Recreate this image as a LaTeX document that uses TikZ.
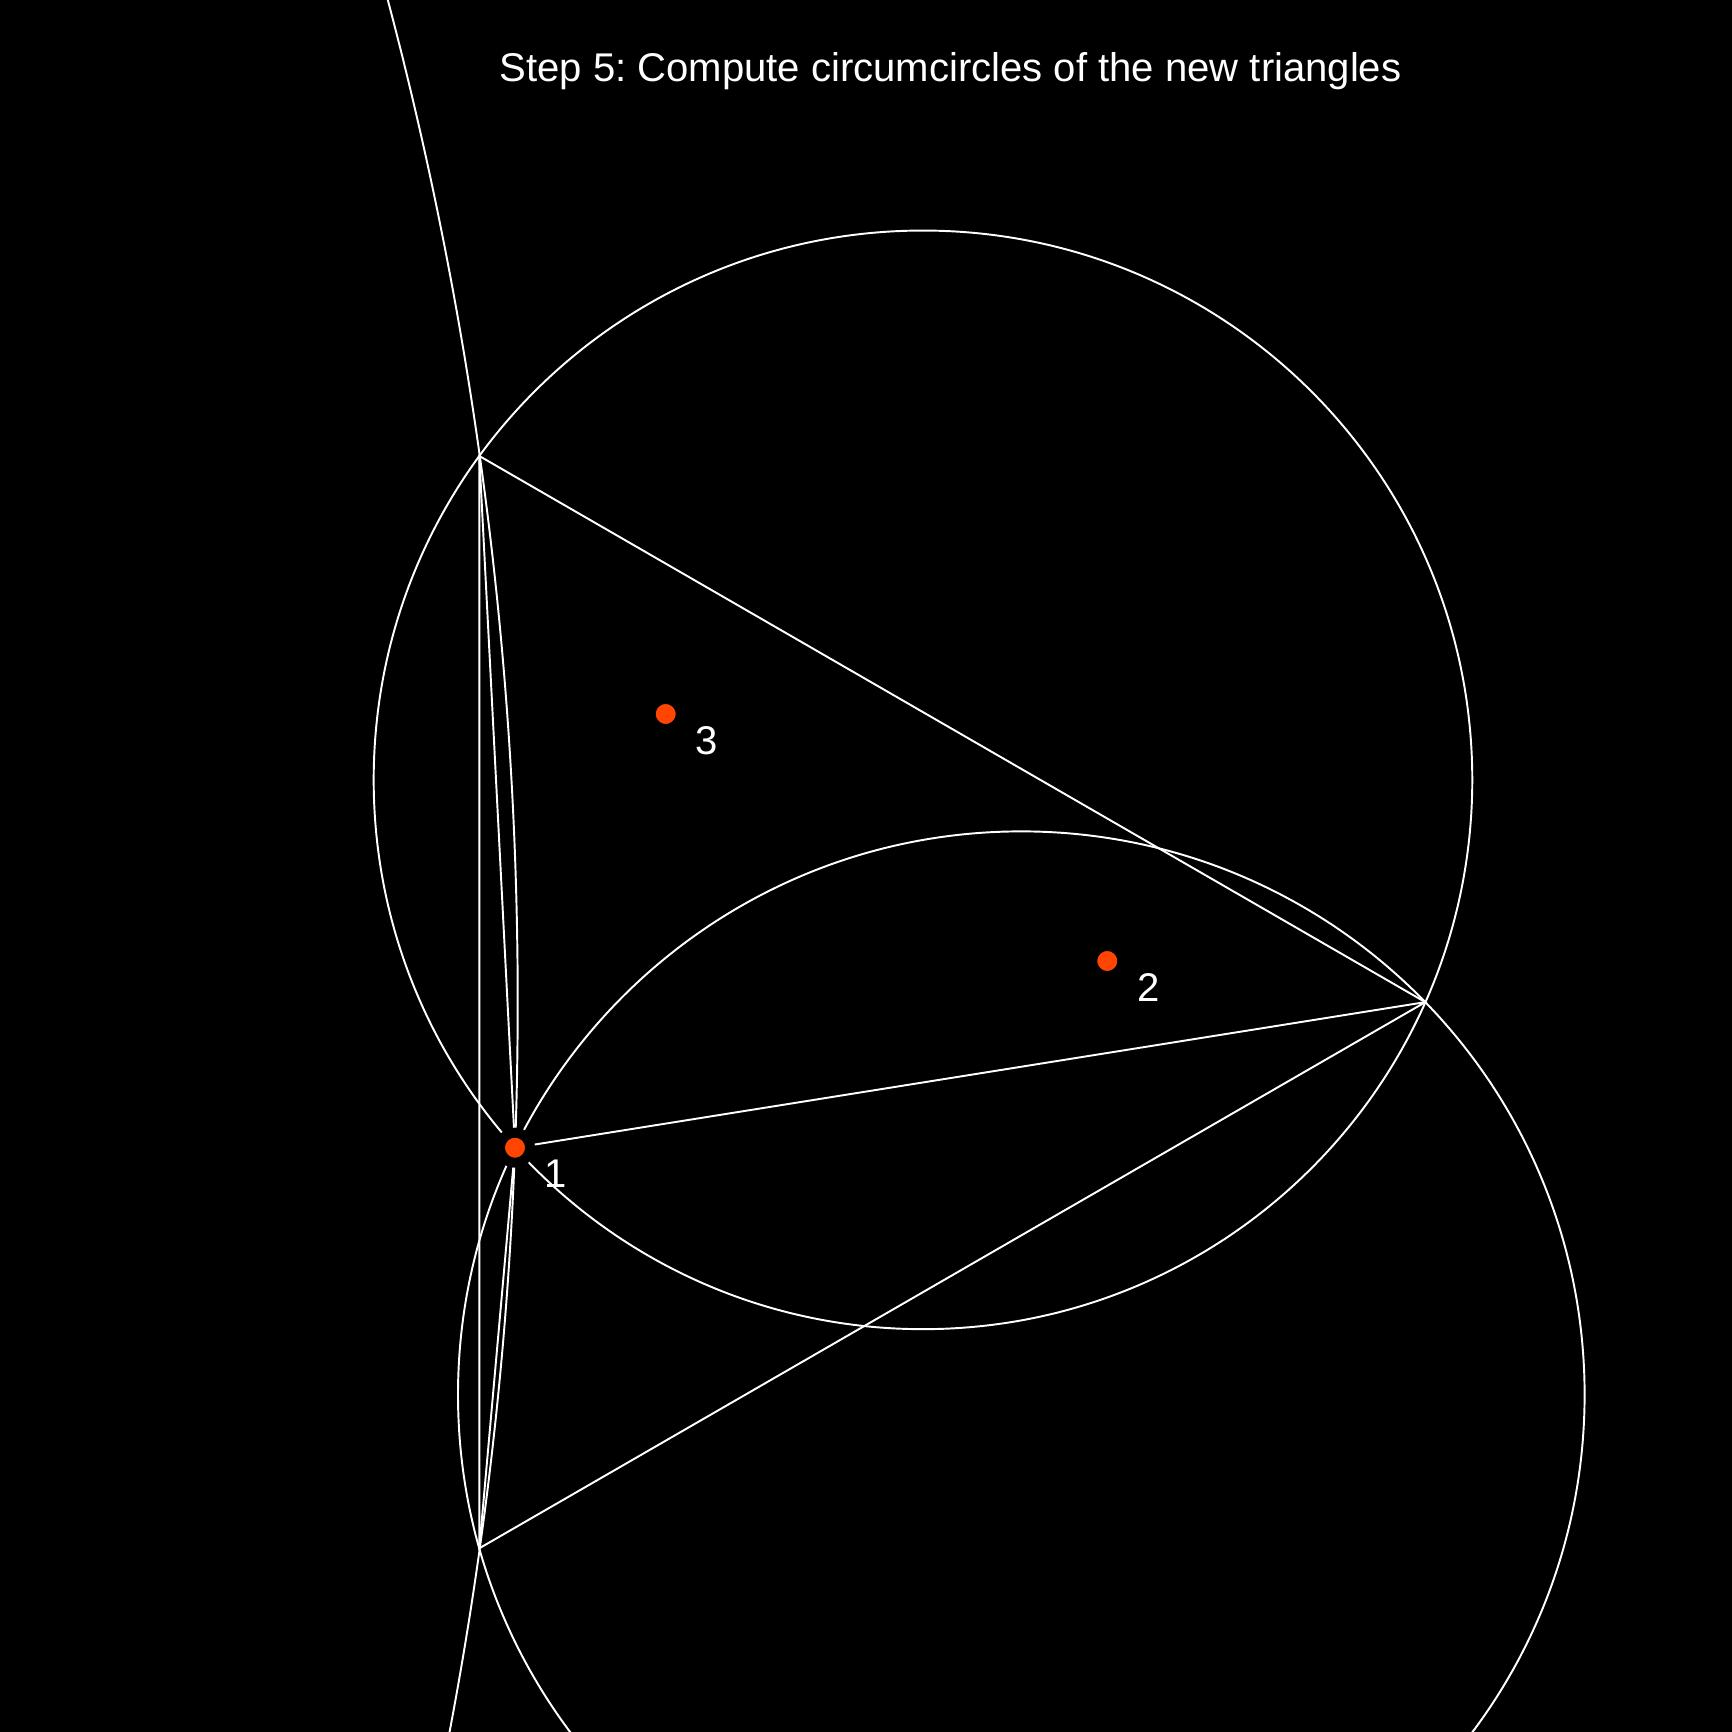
\documentclass[tikz,border=0pt]{standalone}
\usepackage{fontspec}
\setmainfont{Liberation Sans}
\usetikzlibrary{positioning}

\definecolor{dotred}{RGB}{255,69,0}
\frenchspacing

\begin{document}
\begin{tikzpicture}[
    edge/.style={draw=white, line width=0.55pt},
    pt/.style={circle, fill=dotred, draw=black, line width=1mm, inner sep=0pt, minimum size=3mm},
    num/.style={text=white, font=\fontsize{11.4}{14}\selectfont, inner sep=0pt}
  ]
    \useasboundingbox (0,0) rectangle (17.32,17.32);
    \fill[black] (0,0) rectangle (17.32,17.32);
    \clip (0,0) rectangle (17.32,17.32);

    % circumcircles of the three new triangles
    \draw[edge] (9.2298, 9.5213) circle[radius=5.493];
    \draw[edge] (10.213, 3.373) circle[radius=5.633];
    \draw[edge] (-33.838, 7.2985) circle[radius=39.015];

    % super triangle
    \coordinate (a) at (4.793, 12.76);
    \coordinate (b) at (14.253, 7.2985);
    \coordinate (c) at (4.793, 1.837);

    \node[pt] (p1) at (5.15, 5.843) {};
    \node[pt] (p2) at (11.073, 7.71) {};
    \node[pt] (p3) at (6.657, 10.18) {};

    \draw[edge] (a) -- (b) -- (c) -- cycle;
    \draw[edge] (p1) -- (a);
    \draw[edge] (p1) -- (b);
    \draw[edge] (p1) -- (c);

    \node[num] (l1) at (5.56, 5.578) {1};
    \node[num] (l2) at (11.483, 7.445) {2};
    \node[num] (l3) at (7.067, 9.915) {3};

    \node[num, anchor=base] (title) at (9.505, 16.505) {Step 5: Compute circumcircles of the new triangles};
\end{tikzpicture}
\end{document}
